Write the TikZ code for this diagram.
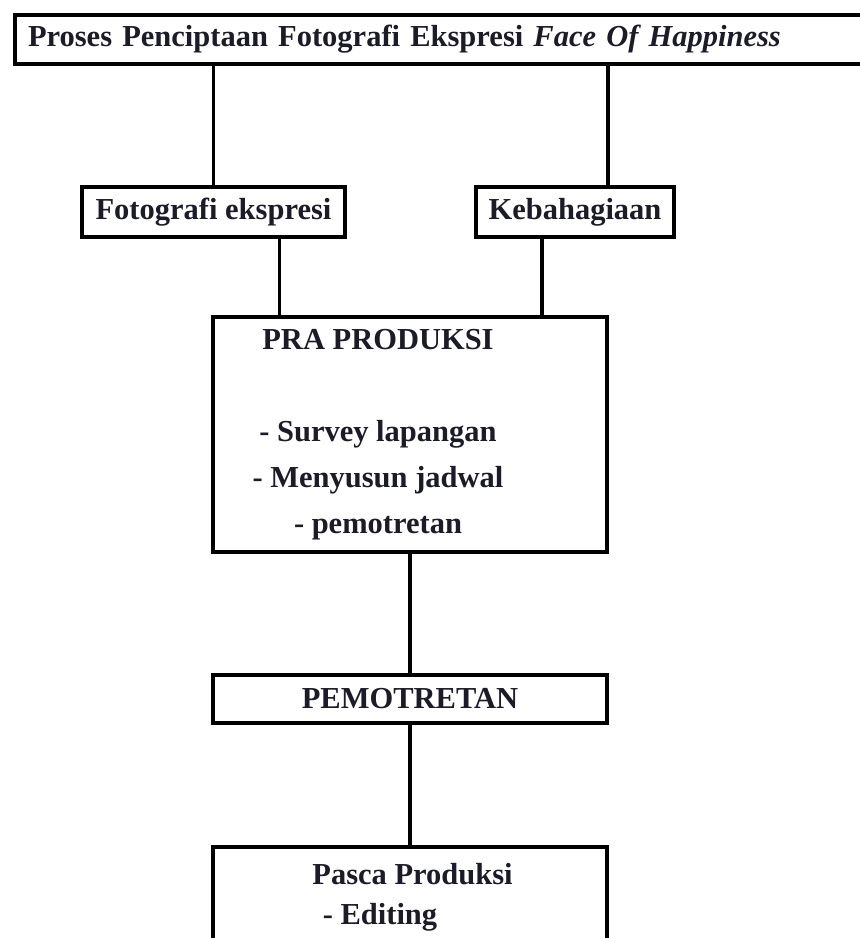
\documentclass[tikz,border=0pt]{standalone}
\usepackage{fontspec}
\setmainfont{Liberation Serif}
\usepackage{xcolor}
\definecolor{inkdark}{RGB}{28,28,40}

\begin{document}
\begin{tikzpicture}[x=1pt, y=-1pt,
		box/.style={draw, rectangle, line width=3.8pt, inner sep=0pt},
		lbl/.style={text=inkdark, font=\fontsize{30.5}{46}\selectfont\bfseries, inner sep=0pt}]
			\useasboundingbox (0,0) rectangle (860,938);
			
			\node[box, lbl, minimum width=865, minimum height=49, text width=839, align=left, inner xsep=13pt] (hdr) at (447.5,39.5) {Proses Penciptaan Fotografi Ekspresi \textit{Face Of Happiness}};
			
			\node[box, lbl, minimum width=263, minimum height=50] (foto) at (213.5,212) {Fotografi ekspresi};
			\node[box, lbl, minimum width=198, minimum height=50] (keb) at (575,212) {Kebahagiaan};
			
			\node[box, minimum width=394, minimum height=235] (pra) at (410,434.5) {};
			\node[lbl, align=center] (pratxt) at (378,434.5) {PRA PRODUKSI\\ \\- Survey lapangan\\- Menyusun jadwal\\- pemotretan};
			
			\node[box, lbl, minimum width=394, minimum height=48] (pemo) at (410,699) {PEMOTRETAN};
			
			\node[box, minimum width=394, minimum height=150] (pasca) at (410,922) {};
			\node[lbl] (pascatxt) at (412.5,874) {Pasca Produksi};
			\node[lbl] (edit) at (380,917) {- Editing};
			
			\draw[line width=3.8pt] (foto.north) -- (foto.north |- hdr.south);
			\draw[line width=3.8pt] ([xshift=33pt]keb.north) -- ([xshift=33pt]keb.north |- hdr.south);
			\draw[line width=3.8pt] ([xshift=66pt]foto.south) -- ([xshift=66pt]foto.south |- pra.north);
			\draw[line width=3.8pt] ([xshift=-33pt]keb.south) -- ([xshift=-33pt]keb.south |- pra.north);
			\draw[line width=3.8pt] (pra.south) -- (pemo.north);
			\draw[line width=3.8pt] (pemo.south) -- (pasca.north);
		\end{tikzpicture}
\end{document}
